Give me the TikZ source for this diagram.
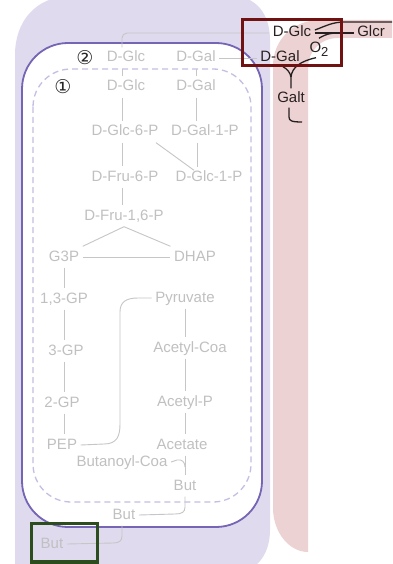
\documentclass[tikz,border=0pt]{standalone}
\usepackage{fontspec}
\setmainfont{Liberation Sans}
\newfontfamily\dejavu{DejaVu Sans}
\usetikzlibrary{calc}
\definecolor{lav}{RGB}{224,218,239}
\definecolor{pinkc}{RGB}{236,210,210}
\definecolor{purp}{RGB}{118,100,180}
\definecolor{dashc}{RGB}{198,190,226}
\definecolor{gtext}{RGB}{192,192,192}
\definecolor{gline}{RGB}{198,198,198}
\definecolor{dk}{RGB}{40,32,32}
\definecolor{boxred}{RGB}{112,18,18}
\definecolor{boxgreen}{RGB}{44,78,30}
\begin{document}
\begin{tikzpicture}[x=1pt,y=-1pt,
 lbl/.style={font=\fontsize{15}{18}\selectfont, text=gtext, inner sep=3.5pt, text height=11pt, text depth=3pt},
 dlbl/.style={lbl, text=dk},
 gl/.style={draw=gline, line width=0.9pt},
 dl/.style={draw=dk, line width=1.3pt},
 num/.style={font=\dejavu\fontsize{19}{20}\selectfont, text=black!85, inner sep=0pt}]
\useasboundingbox (0,0) rectangle (392,564);
% backgrounds
\fill[lav] (15,570) -- (15,55) .. controls (15,22) and (35,-4) .. (72,-4) -- (232,-4) .. controls (256,-4) and (270,14) .. (270,40) -- (270,530) .. controls (270,556) and (255,574) .. (230,574) -- cycle;
\fill[pinkc] (308,552) .. controls (289,552) and (273,532) .. (273,508) -- (273,66) .. controls (273,40) and (293,20) .. (320,20) -- (392,20) -- (392,38) -- (338,38) .. controls (321,38) and (308,51) .. (308,68) -- cycle;
\draw[purp, line width=1.8pt, fill=white, rounded corners=46] (22,43) rectangle (262,527);
\draw[dashc, line width=1.3pt, dash pattern=on 6pt off 4pt, rounded corners=38] (33,69) rectangle (251,502);
% gray nodes
\node[lbl] (glcB) at (126,58) {D-Glc};
\node[lbl] (galB) at (196,58) {D-Gal};
\node[lbl] (glcA) at (126,87) {D-Glc};
\node[lbl] (galA) at (196,87) {D-Gal};
\node[lbl] (g6p) at (125,132) {D-Glc-6-P};
\node[lbl] (ga1p) at (205,132) {D-Gal-1-P};
\node[lbl] (f6p) at (125,177) {D-Fru-6-P};
\node[lbl] (gc1p) at (209,178) {D-Glc-1-P};
\node[lbl] (f16p) at (124,216) {D-Fru-1,6-P};
\node[lbl] (g3p) at (64,257) {G3P};
\node[lbl] (dhap) at (195,257) {DHAP};
\node[lbl] (gp13) at (64,299) {1,3-GP};
\node[lbl] (pyr) at (185,298) {Pyruvate};
\node[lbl] (gp3) at (66,351) {3-GP};
\node[lbl] (acoa) at (190,348) {Acetyl-Coa};
\node[lbl] (gp2) at (62,403) {2-GP};
\node[lbl] (acp) at (185,402) {Acetyl-P};
\node[lbl] (pep) at (62,445) {PEP};
\node[lbl] (acet) at (182,445) {Acetate};
\node[lbl] (bcoa) at (122,462) {Butanoyl-Coa};
\node[lbl] (but1) at (185,486) {But};
\node[lbl] (but2) at (124,515) {But};
\node[lbl] (but3) at (52,544) {But};
% circled numbers
\node[num] (n2) at (85,58) {②};
\node[num] (n1) at (63,87) {①};
% dark nodes
\node[dlbl] (dglc) at (292,33) {D-Glc};
\node[dlbl] (dgal) at (280,58) {D-Gal};
\node[dlbl, text depth=5pt] (o2) at (319,50) {O\raisebox{-4pt}{\fontsize{13}{13}\selectfont 2}};
\node[dlbl] (glcr) at (371,33) {Glcr};
\node[dlbl] (galt) at (291,99) {Galt};
\coordinate (rt) at (392,22);
\coordinate (hk) at (302,122);
% gray connectors
\draw[gl, rounded corners=5] ($(glcB.north)+(-4,0)$) |- (dglc.west);
\draw[gl] (galB.east) -- (dgal.west);
\draw[gl] ($(glcB.south)+(-4,0)$) -- ($(glcA.north)+(-4,0)$);
\draw[gl] (galB.south) -- (galA.north);
\draw[gl] ($(glcA.south)+(-4,0)$) -- ($(g6p.north)+(-3,0)$);
\draw[gl] (galA.south) -- ($(ga1p.north)+(-9,0)$);
\draw[gl] ($(g6p.south)+(-3,0)$) -- ($(f6p.north)+(-3,0)$);
\draw[gl] ($(ga1p.south)+(-8,0)$) -- ($(gc1p.north)+(-12,0)$);
\draw[gl] ($(g6p.south east)+(-6,0)$) -- ($(gc1p.north)+(-15,3)$);
\draw[gl] ($(f6p.south)+(-3,0)$) -- ($(f16p.north)+(-2,0)$);
\draw[gl] (f16p.south) -- (g3p.north east);
\draw[gl] (f16p.south) -- (dhap.north west);
\draw[gl] (g3p.east) -- (dhap.west);
\draw[gl] (g3p.south) -- (gp13.north);
\draw[gl] (gp13.south) -- ($(gp3.north)+(-2,0)$);
\draw[gl] ($(gp3.south)+(-2,0)$) -- ($(gp2.north)+(2,0)$);
\draw[gl] ($(gp2.south)+(2,0)$) -- ($(pep.north)+(2,0)$);
\draw[gl] (pyr.south) -- ($(acoa.north)+(-5,0)$);
\draw[gl] ($(acoa.south)+(-5,0)$) -- (acp.north);
\draw[gl] (acp.south) -- ($(acet.north)+(3,0)$);
\draw[gl] ($(acet.south)+(3,0)$) -- (but1.north);
\draw[gl] (bcoa.east) -- (177,460) .. controls (182,459) and (185,462) .. (185,467);
\draw[gl] (pep.east) -- (104,444) .. controls (117,444) and (120,436) .. (120,424) -- (120,312) .. controls (120,302) and (126,298) .. (138,298) -- (pyr.west);
\draw[gl] (but1.south) -- (185,507) .. controls (185,512) and (182,514) .. (175,514) -- (but2.east);
\draw[gl] ($(but2.south)+(-2,0)$) -- (122,536) .. controls (122,541) and (119,543) .. (113,543) -- (but3.east);
% dark connectors
\draw[dl] (dglc.east) -- (glcr.west);
\draw[dl] (o2.north) .. controls (321,37) and (327,33) .. (337,33);
\draw[dl] ([yshift=3pt]dglc.east) .. controls (326,26) and (332,22) .. (345,22) -- (rt);
\draw[dl] (galt.north) -- (291,77) .. controls (292,67) and (301,61) .. ($(o2.south)+(-3,-4)$);
\draw[dl] (291,77) .. controls (290,72) and (287,69) .. ($(dgal.south)+(3,-2)$);
\draw[dl] ($(galt.south)+(-2,-2)$) -- (289,117) .. controls (289,121) and (292,122) .. (hk);
% highlight boxes
\draw[boxred, line width=3.2pt] (242.5,19.5) rectangle (341.5,65.5);
\draw[boxgreen, line width=3.2pt] (31.5,523.5) rectangle (97.5,562);
\end{tikzpicture}
\end{document}
